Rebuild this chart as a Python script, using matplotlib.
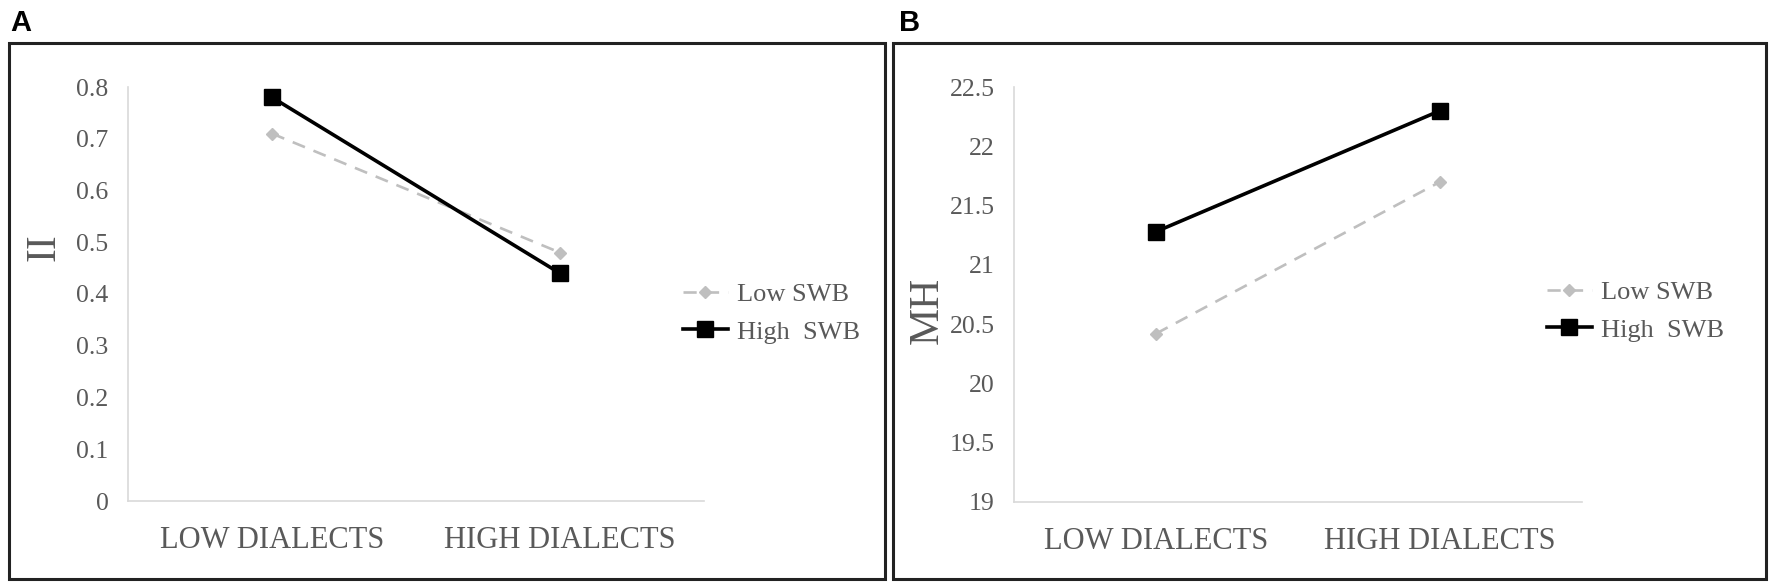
import matplotlib
matplotlib.use("Agg")
import matplotlib.pyplot as plt
from matplotlib.patches import Rectangle

# data
categories = ['LOW DIALECTS', 'HIGH DIALECTS']
series = ['Low SWB', 'High  SWB']

ii_low = [0.71, 0.48]
ii_high = [0.78, 0.44]
ii_ticks = [0, 0.1, 0.2, 0.3, 0.4, 0.5, 0.6, 0.7, 0.8]

mh_low = [20.42, 21.70]
mh_high = [21.28, 22.30]
mh_ticks = [19, 19.5, 20, 20.5, 21, 21.5, 22, 22.5]

W, H = 1772, 587
fig = plt.figure(figsize=(W / 100, H / 100), dpi=100)
serif = 'Liberation Serif'
grey_txt = '#595959'


def px(x0, y0, x1, y1):
    # pixel box -> figure fraction [left, bottom, width, height]
    return [x0 / W, 1 - y1 / H, (x1 - x0) / W, (y1 - y0) / H]


# panel frames
for x0, x1 in [(9, 885), (893, 1766)]:
    fig.patches.append(Rectangle((x0 / W, 1 - 579 / H), (x1 - x0) / W, 536 / H,
                                 transform=fig.transFigure, fill=False,
                                 edgecolor='#222222', linewidth=2.2))


def panel(rect, low, high, ticks, ylim, ylab, ylab_xy, leg_xy, letter, letter_x):
    ax = fig.add_axes(px(*rect))
    x = range(len(categories))
    ax.plot(x, low, color='#bfbfbf', linestyle=(0, (5, 3.5)), linewidth=1.9,
            marker='D', markersize=6, label=series[0])
    ax.plot(x, high, color='black', linewidth=2.6, marker='s', markersize=11.5,
            label=series[1])
    ax.set_xlim(-0.5, 1.5)
    ax.set_ylim(*ylim)
    ax.set_xticks(list(x))
    ax.set_xticklabels(categories, fontfamily=serif, fontsize=22, color=grey_txt)
    ax.set_yticks(ticks)
    ax.set_yticklabels([('%g' % t) for t in ticks], fontfamily=serif,
                       fontsize=18.5, color=grey_txt)
    ax.tick_params(axis='x', length=0, pad=18)
    ax.tick_params(axis='y', length=0, pad=14)
    for s in ['top', 'right']:
        ax.spines[s].set_visible(False)
    for s in ['left', 'bottom']:
        ax.spines[s].set_color('#d9d9d9')
        ax.spines[s].set_linewidth(1.2)
    fig.text(ylab_xy[0] / W, 1 - ylab_xy[1] / H, ylab, rotation=90,
             ha='center', va='center', fontfamily=serif, fontsize=30,
             color=grey_txt)
    leg = ax.legend(loc='center left', bbox_to_anchor=(leg_xy[0] / W, 1 - leg_xy[1] / H),
                    bbox_transform=fig.transFigure, frameon=False, borderpad=0,
                    borderaxespad=0, handlelength=1.7, handletextpad=0.35,
                    labelspacing=0.55, prop={'family': serif, 'size': 19})
    for t in leg.get_texts():
        t.set_color(grey_txt)
    fig.text(letter_x / W, 1 - 9 / H, letter, ha='left', va='top',
             fontfamily='Liberation Sans', fontweight='bold', fontsize=21)
    return ax


panel((128, 87, 704, 501), ii_low, ii_high, ii_ticks, (0, 0.8), 'II',
      (44, 247), (683, 313), 'A', 10)
panel((1014, 87, 1582, 502), mh_low, mh_high, mh_ticks, (19, 22.5), 'MH',
      (927, 310), (1547, 311), 'B', 899)

fig.savefig('out.png', dpi=100)
